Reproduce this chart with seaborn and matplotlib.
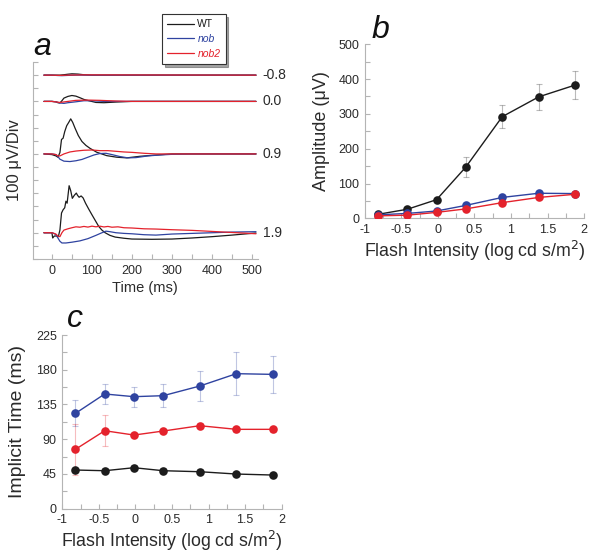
import numpy as np
import pandas as pd
import matplotlib
matplotlib.use("Agg")
import matplotlib.pyplot as plt
from matplotlib.lines import Line2D
from matplotlib.ticker import MultipleLocator
import seaborn as sns

sns.set_theme(style="white")
plt.rcParams['font.family'] = ['Liberation Sans', 'DejaVu Sans']
plt.rcParams['axes.unicode_minus'] = False

# ---------------- data ----------------
genotypes = ["WT", "nob", "nob2"]
colors = {"WT": "#1c1c1c", "nob": "#2f43a0", "nob2": "#e4222c"}

intensity = [-0.82, -0.42, -0.02, 0.38, 0.88, 1.38, 1.88]

amp_wt = [11.5, 26, 53.5, 147, 292, 349, 383]
amp_nob = [10, 14, 21, 37, 60, 72, 71]
amp_nob2 = [7, 9, 17, 27, 45, 60, 69]
amp_wt_err = [4, 5, 6, 28, 33, 38, 40]
amp_nob_err = [2, 3, 3, 4, 6, 6, 6]
amp_nob2_err = [2, 2, 3, 3, 4, 5, 5]

imp_wt = [50.1, 49.2, 53.1, 49.2, 47.9, 44.9, 43.6]
imp_nob = [123.5, 148.6, 145.1, 146.4, 158.9, 174.9, 174.0]
imp_nob2 = [76.9, 101.0, 95.4, 100.6, 107.5, 102.8, 102.8]
imp_wt_err = [3, 3, 3, 3, 3, 3, 3]
imp_nob_err = [17, 13, 13, 15, 20, 28, 24]
imp_nob2_err = [33, 20, 3, 3, 3, 3, 3]

# ERG traces (time in ms, response in uV relative to baseline)
trace_labels = ["-0.8", "0.0", "0.9", "1.9"]
trace_offsets = [1200, 1000, 600, 0]

t_wt_m08 = [-20, 0, 20, 30, 40, 50, 58, 65, 80, 100, 150, 510]
v_wt_m08 = [0, 0, 0, 3, 7, 10, 9, 8, 3, 0, 0, 0]
t_nob_m08 = [-20, 0, 15, 25, 40, 60, 510]
v_nob_m08 = [0, 0, -3, -4, -2, 0, 0]
t_nob2_m08 = [-20, 0, 20, 40, 80, 510]
v_nob2_m08 = [0, 0, -2, 0, 2, 0]

t_wt_00 = [-20, 0, 10, 15, 20, 25, 30, 40, 50, 60, 70, 80, 95, 110, 130, 160, 200, 510]
v_wt_00 = [0, 0, -3, -10, -12, 5, 25, 38, 45, 40, 28, 15, 3, -8, -10, -5, 0, 0]
t_nob_00 = [-20, 0, 10, 20, 30, 40, 60, 80, 100, 130, 510]
v_nob_00 = [0, 0, -3, -12, -15, -10, -3, 5, 5, 0, 0]
t_nob2_00 = [-20, 0, 20, 40, 60, 90, 120, 160, 200, 510]
v_nob2_00 = [0, 0, -8, 0, 8, 10, 8, 3, 0, 0]

t_wt_09 = [-20, 0, 10, 15, 20, 24, 28, 32, 37, 42, 47, 52, 58, 66, 75, 85, 95, 112,
           137, 162, 187, 220, 262, 300, 510]
v_wt_09 = [0, -5, -15, -25, 10, 110, 120, 170, 215, 240, 267, 240, 195, 140, 95, 65,
           43, 13, -13, -25, -30, -18, -8, 0, 0]
t_nob_09 = [-20, 0, 10, 15, 20, 30, 45, 60, 75, 90, 105, 120, 135, 150, 170, 190, 210,
            240, 270, 300, 350, 510]
v_nob_09 = [0, 0, -5, -20, -40, -55, -58, -52, -42, -25, -8, 3, 5, -5, -20, -30, -28,
            -15, -8, -3, 0, 0]
t_nob2_09 = [-20, 0, 10, 15, 20, 30, 45, 60, 80, 100, 120, 140, 160, 180, 200, 230,
             260, 510]
v_nob2_09 = [0, 0, -5, -15, -15, 0, 15, 22, 28, 30, 25, 25, 20, 15, 12, 5, 0, 0]

t_wt_19 = [-20, 0, 2, 6, 12, 16, 20, 24, 28, 32, 35, 38, 43, 47, 51, 56, 61, 64, 68,
           73, 78, 84, 92, 100, 108, 117, 125, 133, 145, 158, 180, 200, 250, 300, 350,
           400, 450, 510]
v_wt_19 = [0, 0, -40, -25, -25, -30, 20, 150, 175, 190, 240, 225, 358, 320, 262, 285,
           302, 285, 270, 280, 265, 225, 180, 137, 95, 48, 20, 0, -20, -33, -42, -48,
           -50, -48, -40, -30, -18, -2]
t_nob_19 = [-20, 0, 5, 10, 15, 20, 25, 35, 50, 70, 90, 110, 125, 135, 145, 160, 180,
            200, 230, 260, 300, 350, 400, 450, 510]
v_nob_19 = [0, 0, -5, -15, -40, -65, -78, -78, -72, -62, -45, -20, 0, 12, 8, 0, -5,
            -8, -15, -18, -10, -5, 0, 5, 8]
t_nob2_19 = [-20, 0, 5, 10, 15, 20, 25, 30, 40, 50, 60, 70, 80, 90, 100, 110, 120, 130,
             140, 150, 165, 180, 200, 230, 260, 300, 350, 400, 450, 510]
v_nob2_19 = [0, 0, -5, -10, -25, -30, 0, 20, 30, 38, 45, 42, 48, 43, 50, 45, 50, 44,
             48, 42, 45, 38, 36, 30, 28, 23, 18, 10, 2, -8]

traces = [
    (0, "WT", t_wt_m08, v_wt_m08), (0, "nob", t_nob_m08, v_nob_m08), (0, "nob2", t_nob2_m08, v_nob2_m08),
    (1, "WT", t_wt_00, v_wt_00), (1, "nob", t_nob_00, v_nob_00), (1, "nob2", t_nob2_00, v_nob2_00),
    (2, "WT", t_wt_09, v_wt_09), (2, "nob", t_nob_09, v_nob_09), (2, "nob2", t_nob2_09, v_nob2_09),
    (3, "WT", t_wt_19, v_wt_19), (3, "nob", t_nob_19, v_nob_19), (3, "nob2", t_nob2_19, v_nob2_19),
]

# ---------------- figure ----------------
W, H = 600, 559
fig = plt.figure(figsize=(W / 100, H / 100), dpi=100)


def frac(x0, y_top, x1, y_bot):
    return [x0 / W, 1 - y_bot / H, (x1 - x0) / W, (y_bot - y_top) / H]


ax_a = fig.add_axes(frac(32.7, 62, 258, 259))
ax_b = fig.add_axes(frac(365, 44.3, 584, 218.3))
ax_c = fig.add_axes(frac(62.3, 335, 281.7, 508.7))

spine_col = "#b4b4b4"
tick_col = "#2a2a2a"
for ax in (ax_a, ax_b, ax_c):
    for s in ("top", "right"):
        ax.spines[s].set_visible(False)
    for s in ("left", "bottom"):
        ax.spines[s].set_color(spine_col)
        ax.spines[s].set_linewidth(0.8)
    ax.tick_params(which="both", direction="in", color=spine_col, width=0.8,
                   labelcolor=tick_col, labelsize=9, pad=4,
                   bottom=True, left=True, top=False, right=False)
    ax.tick_params(which="major", length=3.5)
    ax.tick_params(which="minor", length=3.5)
    ax.set_facecolor("none")

# ---- panel a ----
for idx, g, t, v in traces:
    sns.lineplot(x=t, y=np.array(v) + trace_offsets[idx], color=colors[g], lw=0.9,
                 sort=False, estimator=None, ax=ax_a)
ax_a.set_xlim(-48, 515)
ax_a.set_ylim(-200, 1300)
ax_a.xaxis.set_major_locator(MultipleLocator(100))
ax_a.xaxis.set_minor_locator(MultipleLocator(50))
ax_a.yaxis.set_major_locator(MultipleLocator(100))
ax_a.tick_params(axis="y", labelleft=False)
ax_a.set_xlabel("Time (ms)", fontsize=10.5, color=tick_col, labelpad=3)
ax_a.set_ylabel("100 \u03bcV/Div", fontsize=12, color=tick_col)
ax_a.yaxis.set_label_coords(-10.5 / 225.3, 0.5)
for lab, off in zip(trace_labels, trace_offsets):
    ax_a.text(527, off, lab, fontsize=10, color=tick_col, va="center", ha="left",
              clip_on=False)
fig.text(33 / W, 1 - 55 / H, "a", fontsize=23, style="italic", color="#111")

handles = [Line2D([], [], color=colors[g], lw=0.9) for g in genotypes]
leg = fig.legend(handles, genotypes, loc="upper left",
                 bbox_to_anchor=(162 / W, 1 - 14 / H), bbox_transform=fig.transFigure,
                 fontsize=7.5, frameon=True, fancybox=False, shadow=True,
                 handlelength=2.6, handletextpad=0.3, labelspacing=0.45,
                 borderpad=0.5, borderaxespad=0)
leg.get_frame().set_edgecolor("#333333")
leg.get_frame().set_linewidth(0.8)
for txt, g in zip(leg.get_texts(), genotypes):
    txt.set_color(colors[g])
    if g != "WT":
        txt.set_style("italic")


# ---- panels b and c ----
def draw_series(ax, ys, errs):
    for g, y, e in zip(genotypes, ys, errs):
        ax.errorbar(intensity, y, yerr=e, fmt="none", ecolor=colors[g], alpha=0.3,
                    elinewidth=0.8, capsize=2.5, capthick=0.8, zorder=1)
    for g, y in zip(genotypes, ys):
        df = pd.DataFrame({"x": intensity, "y": y})
        sns.lineplot(data=df, x="x", y="y", color=colors[g], lw=1.0, marker="o",
                     markersize=6.2, markeredgewidth=0, ax=ax, zorder=3)


draw_series(ax_b, [amp_wt, amp_nob, amp_nob2], [amp_wt_err, amp_nob_err, amp_nob2_err])
ax_b.set_xlim(-1, 2)
ax_b.set_ylim(0, 500)
ax_b.set_xticks([-1, -0.5, 0, 0.5, 1, 1.5, 2])
ax_b.set_xticklabels(["-1", "-0.5", "0", "0.5", "1", "1.5", "2"])
ax_b.xaxis.set_minor_locator(MultipleLocator(0.25))
ax_b.yaxis.set_major_locator(MultipleLocator(100))
ax_b.yaxis.set_minor_locator(MultipleLocator(50))
ax_b.set_xlabel("Flash Intensity (log cd s/m$^2$)", fontsize=12.8, color=tick_col, labelpad=2)
ax_b.set_ylabel("Amplitude (\u03bcV)", fontsize=13, color=tick_col, labelpad=6)
fig.text(372 / W, 1 - 38 / H, "b", fontsize=23, style="italic", color="#111")

draw_series(ax_c, [imp_wt, imp_nob, imp_nob2], [imp_wt_err, imp_nob_err, imp_nob2_err])
ax_c.set_xlim(-1, 2)
ax_c.set_ylim(0, 225)
ax_c.set_xticks([-1, -0.5, 0, 0.5, 1, 1.5, 2])
ax_c.set_xticklabels(["-1", "-0.5", "0", "0.5", "1", "1.5", "2"])
ax_c.xaxis.set_minor_locator(MultipleLocator(0.25))
ax_c.yaxis.set_major_locator(MultipleLocator(45))
ax_c.yaxis.set_minor_locator(MultipleLocator(22.5))
ax_c.set_xlabel("Flash Intensity (log cd s/m$^2$)", fontsize=12.8, color=tick_col, labelpad=2)
ax_c.set_ylabel("Implicit Time (ms)", fontsize=14, color=tick_col, labelpad=7)
fig.text(67 / W, 1 - 327 / H, "c", fontsize=23, style="italic", color="#111")

fig.savefig("out.png", dpi=100)
